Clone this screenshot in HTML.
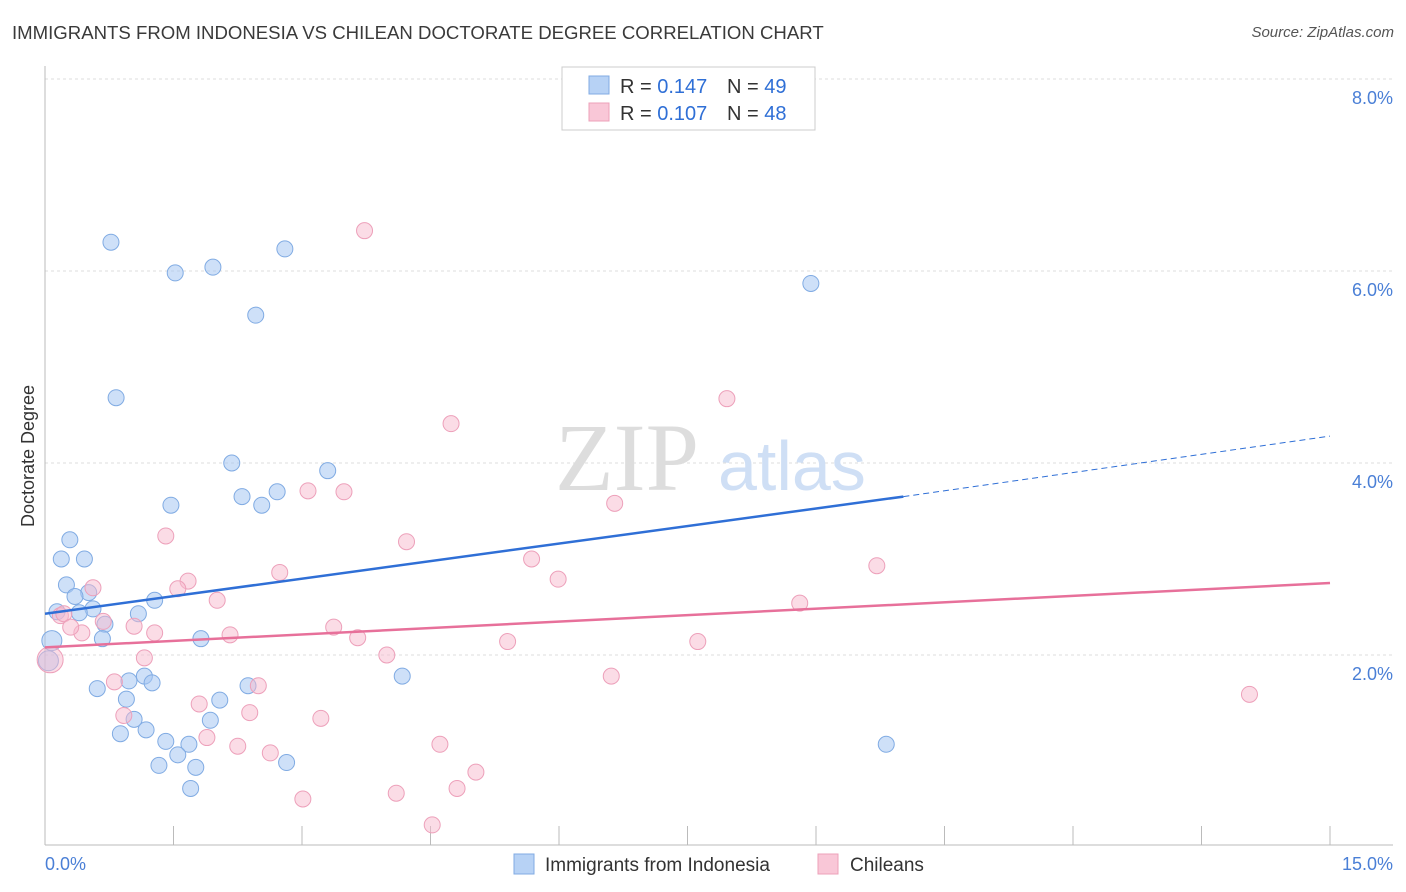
<!DOCTYPE html>
<html><head><meta charset="utf-8">
<style>
body{margin:0;background:#fff;font-family:"Liberation Sans",sans-serif;}
#wrap{position:relative;width:1406px;height:892px;overflow:hidden;}
.t{position:absolute;white-space:nowrap;}
</style></head><body>
<div id="wrap">
<div class="t" style="left:12px;top:22px;font-size:18.6px;color:#3a3a3a;">IMMIGRANTS FROM INDONESIA VS CHILEAN DOCTORATE DEGREE CORRELATION CHART</div>
<div class="t" style="right:12px;top:24px;font-size:15px;color:#555;font-style:italic;">Source: ZipAtlas.com</div>
<svg id="svg" width="1406" height="892" style="position:absolute;left:0;top:0"></svg>
</div>
<script>
const xTicks=[0,1.5,3,4.5,6,7.5,9,10.5,12,13.5,15];
const yTicks=[2,4,6,8];
const yTickLabels=["2.0%","4.0%","6.0%","8.0%"];
const blueX=[0.77,1.52,1.96,2.80,2.46,8.94,0.83,2.18,3.30,2.30,2.71,2.53,1.47,0.29,0.19,0.46,0.25,0.51,0.35,1.28,0.14,0.56,0.40,1.09,0.70,0.67,1.82,0.08,0.04,1.16,0.98,1.25,0.61,2.37,4.17,0.95,2.04,1.04,1.93,0.88,1.18,1.41,1.68,1.55,1.33,1.76,2.82,1.70,9.82];
const blueY=[6.30,5.98,6.04,6.23,5.54,5.87,4.68,4.00,3.92,3.65,3.70,3.56,3.56,3.20,3.00,3.00,2.73,2.65,2.61,2.57,2.45,2.48,2.44,2.43,2.32,2.17,2.17,2.15,1.94,1.78,1.73,1.71,1.65,1.68,1.78,1.54,1.53,1.33,1.32,1.18,1.22,1.10,1.07,0.96,0.85,0.83,0.88,0.61,1.07];
const pinkX=[3.73,7.96,4.74,6.65,3.07,3.49,4.22,1.41,5.68,5.99,9.71,2.74,1.67,0.56,1.55,2.01,8.81,0.18,0.22,0.68,1.04,0.43,0.30,1.28,2.16,3.37,3.65,5.40,7.62,3.99,1.16,0.06,0.81,2.49,1.80,2.39,0.92,3.22,1.89,2.25,2.63,4.61,6.61,5.03,4.81,4.10,3.01,4.52,14.06];
const pinkY=[6.42,4.67,4.41,3.58,3.71,3.70,3.18,3.24,3.00,2.79,2.93,2.86,2.77,2.70,2.69,2.57,2.54,2.41,2.43,2.35,2.30,2.23,2.29,2.23,2.21,2.29,2.18,2.14,2.14,2.00,1.97,1.95,1.72,1.68,1.49,1.40,1.37,1.34,1.14,1.05,0.98,1.07,1.78,0.78,0.61,0.56,0.50,0.23,1.59];
const blueTrend=[2.43,3.65,4.28];
const blueTrendX=[0,10.02,15];
const pinkTrend=[2.08,2.75];
const x0=45,x1=1330,yBase=847,yPer=96;
const X=v=>x0+(x1-x0)*v/15, Y=v=>yBase-v*yPer;
const svg=document.getElementById('svg');const NS="http://www.w3.org/2000/svg";
function mk(t,a,p){const e=document.createElementNS(NS,t);for(const k in a)e.setAttribute(k,a[k]);(p||svg).appendChild(e);return e;}
yTicks.forEach((v,i)=>{
 const l=mk('line',{x1:x0,x2:1393,y1:Y(v),y2:Y(v),stroke:'#ddd','stroke-dasharray':'3,3'});
 
 
 const t=mk('text',{x:1393,y:Y(v)+25,'text-anchor':'end','font-size':18,fill:'#4a7fd6','font-family':'Liberation Sans'});t.textContent=yTickLabels[i];
 
 
});
const topGrid=mk('line',{x1:x0,x2:1393,y1:79,y2:79,stroke:'#ddd','stroke-dasharray':'3,3'});
mk('line',{x1:x0,x2:x0,y1:66,y2:845,stroke:'#bbb'});
mk('line',{x1:x0,x2:1393,y1:845,y2:845,stroke:'#bbb'});
xTicks.forEach(v=>{const l=mk('line',{x1:X(v),x2:X(v),y1:826,y2:845,stroke:'#bbb'});
 
 });
let t=mk('text',{x:45,y:870,'font-size':18,fill:'#4a7fd6','font-family':'Liberation Sans'});t.textContent='0.0%';


t=mk('text',{x:1393,y:870,'text-anchor':'end','font-size':18,fill:'#4a7fd6','font-family':'Liberation Sans'});t.textContent='15.0%';


t=mk('text',{x:34,y:456,'text-anchor':'middle','font-size':18,fill:'#333',transform:'rotate(-90 34 456)','font-family':'Liberation Sans'});t.textContent='Doctorate Degree';


t=mk('text',{x:555,y:490,'font-size':96,fill:'#ddd','font-family':'Liberation Serif'});t.textContent='ZIP';


t=mk('text',{x:718,y:490,'font-size':70,fill:'#cfdff5','font-family':'Liberation Sans'});t.textContent='atlas';


blueX.forEach((v,i)=>{const c=mk('circle',{cx:X(v),cy:Y(blueY[i]),r:(i==28||i==27)?10:8,fill:'rgba(165,199,242,0.55)',stroke:'#80abe3','stroke-width':1});
 
 });
pinkX.forEach((v,i)=>{const c=mk('circle',{cx:X(v),cy:Y(pinkY[i]),r:i==31?13:8,fill:'rgba(247,186,205,0.5)',stroke:'#eda0ba','stroke-width':1});
 
 });
let l=mk('line',{x1:X(blueTrendX[0]),y1:Y(blueTrend[0]),x2:X(blueTrendX[1]),y2:Y(blueTrend[1]),stroke:'#2f6fd6','stroke-width':2.5});


l=mk('line',{x1:X(blueTrendX[1]),y1:Y(blueTrend[1]),x2:X(blueTrendX[2]),y2:Y(blueTrend[2]),stroke:'#2f6fd6','stroke-width':1,'stroke-dasharray':'6,4'});


l=mk('line',{x1:X(0),y1:Y(pinkTrend[0]),x2:X(15),y2:Y(pinkTrend[1]),stroke:'#e7709a','stroke-width':2.5});


const g=mk('g',{});


mk('rect',{x:562,y:67,width:253,height:63,fill:'#fff',stroke:'#ccc'},g);
mk('rect',{x:589,y:76,width:20,height:18,fill:'#b7d2f5',stroke:'#80abe3'},g);
mk('rect',{x:589,y:103,width:20,height:18,fill:'#f9c7d7',stroke:'#eda0ba'},g);
[[93,'0.147','49'],[120,'0.107','48']].forEach(r=>{
 const a=mk('text',{x:620,y:r[0],'font-size':20,fill:'#333','font-family':'Liberation Sans'},g);
 a.innerHTML='R = <tspan fill="#2f6fd6">'+r[1]+'</tspan><tspan x="727">N = </tspan><tspan fill="#2f6fd6">'+r[2]+'</tspan>';
});
[[514,'#b7d2f5','#80abe3','Immigrants from Indonesia',545,'legend-indonesia'],[818,'#f9c7d7','#eda0ba','Chileans',850,'legend-chileans']].forEach(r=>{
 const gg=mk('g',{});
 
 
 mk('rect',{x:r[0],y:854,width:20,height:20,fill:r[1],stroke:r[2]},gg);
 const tt=mk('text',{x:r[4],y:871,'font-size':19,fill:'#333','font-family':'Liberation Sans'},gg);tt.textContent=r[3];
});
</script>
</body></html>
